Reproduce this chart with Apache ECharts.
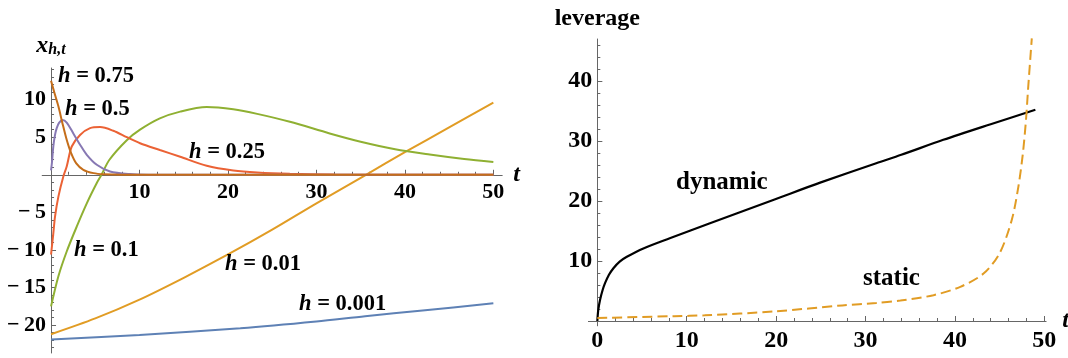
<!DOCTYPE html>
<html><head><meta charset="utf-8">
<script src="https://cdn.jsdelivr.net/npm/echarts@6/dist/echarts.min.js"></script>
<style>html,body{margin:0;padding:0;background:#fff}#c{width:1068px;height:358px}</style>
</head><body><div id="c"></div>
<script>
// ---------- Left panel data: x_{h,t} vs t ----------
const h075_t = [0, 0.38, 0.83, 1.28, 1.77, 2.26, 2.83, 3.65, 4.8, 6, 8, 50];
const h075_v = [12.5, 10.9, 9.1, 6.9, 4.65, 2.9, 1.55, 0.66, 0.22, 0.07, 0.01, 0];
const h05_t = [0, 0.1, 0.26, 0.45, 0.64, 0.9, 1.3, 1.77, 2.52, 3.28, 4.04, 5.17, 6.67, 8.9, 11, 50];
const h05_v = [0.6, 1.6, 3.8, 5.3, 6.2, 6.9, 7.3, 6.95, 5.5, 4.0, 2.66, 1.33, 0.44, 0.09, 0.02, 0];
const h025_t = [0, 0.26, 0.45, 0.83, 1.39, 1.77, 2.34, 3.28, 4.41, 5.54, 7.04, 8.56, 10.06, 12.3, 14.6, 17.6, 20.6, 23.3, 27, 32, 40, 50];
const h025_v = [-10.6, -7.75, -5.55, -2.9, -0.23, 1.1, 3.76, 5.3, 6.2, 6.34, 5.85, 5.0, 4.2, 3.3, 2.4, 1.2, 0.57, 0.3, 0.13, 0.04, 0.01, 0];
const h01_t = [0, 0.83, 1.77, 2.9, 4.04, 5.17, 5.7, 6.6, 8.56, 10.06, 12.3, 14.6, 17.6, 20.6, 23.3, 27, 31.5, 35, 38.9, 42.8, 46.7, 50];
const h01_v = [-17.5, -13.5, -10.2, -6.9, -3.8, -1.1, 0, 2.0, 4.6, 6.0, 7.5, 8.4, 9.0, 8.7, 8.1, 7.05, 5.5, 4.4, 3.4, 2.7, 2.1, 1.7];
const h001_t = [0, 5, 10, 15, 20, 25, 30, 35.6, 40, 45, 50];
const h001_v = [-21.2, -19.1, -16.6, -13.7, -10.6, -7.3, -3.8, 0, 3.0, 6.3, 9.6];
const h0001_t = [0, 10, 21.4, 30, 35.5, 42, 50];
const h0001_v = [-21.9, -21.3, -20.4, -19.5, -18.8, -18.05, -17.1];

// ---------- Right panel data: leverage vs t ----------
const dyn_t = [0, 0.1, 0.3, 0.6, 0.86, 1.3, 1.8, 2.5, 3.3, 5.15, 8.1, 12.6, 19.9, 25, 31.2, 34, 38.7, 44, 49];
const dyn_v = [0, 1.8, 3.5, 5.2, 6.3, 7.7, 8.8, 9.9, 10.7, 12.1, 13.8, 16.3, 20.3, 23.1, 26.3, 27.7, 30.2, 32.8, 35.2];
const sta_t = [0, 8.6, 12, 19.9, 27.4, 31.2, 33.9, 37.6, 40.6, 43.2, 45.0, 46.35, 47.1, 47.6, 47.95, 48.2, 48.6];
const sta_v = [0.5, 0.8, 0.95, 1.6, 2.6, 3.0, 3.4, 4.3, 5.7, 7.9, 11.3, 16.8, 22.4, 27.9, 33.5, 39, 47.1];

// ---------- Tick labels ----------
const leftXTicks = [10, 20, 30, 40, 50];
const leftYTicks = [-20, -15, -10, -5, 5, 10];
const rightXTicks = [0, 10, 20, 30, 40, 50];
const rightYTicks = [10, 20, 30, 40];

// curve labels
const curveLabels = ['0.75', '0.5', '0.25', '0.1', '0.01', '0.001'];

function range(a, b, s) { const r = []; for (let v = a; v <= b + 1e-9; v += s) r.push(+v.toFixed(6)); return r; }
const leftXMinor = range(2, 50, 2);
const leftYMinor = range(-23, 14, 1);
const rightXMinor = range(2, 50, 2);
const rightYMinor = range(2, 46, 2);

function zip(t, v) { return t.map((x, i) => [x, v[i]]); }
const FONT = '"Liberation Serif", "Times New Roman", serif';
const minus = v => (v < 0 ? '\u2212\u2009' + (-v) : String(v));
const AX = '#666';

// grid geometry and ranges
const LG = { left: 42.2, top: 68, width: 460, height: 285 };
const LX = { min: -1, max: 51 };
const LY = { min: -23.7, max: 14.2 };
const RG = { left: 588.4, top: 39, width: 457.7, height: 286.8 };
const RX = { min: -1, max: 50.2 };
const RY = { min: -0.8, max: 47 };
// offsets that move each axis onto the other axis's zero
const lxOff = -(LG.height * (0 - LY.min) / (LY.max - LY.min));
const lyOff = -(LG.width * (0 - LX.min) / (LX.max - LX.min));
const rxOff = -(RG.height * (0 - RY.min) / (RY.max - RY.min));
const ryOff = -(RG.width * (0 - RX.min) / (RX.max - RX.min));

function mkAxis(o) {
  const base = {
    type: 'value', gridIndex: o.grid, min: o.r.min, max: o.r.max, position: o.pos,
    offset: o.offset,
    splitLine: { show: false },
    axisLine: { show: o.major, onZero: false, lineStyle: { color: AX, width: 1 } },
    axisTick: { show: true, inside: true, length: o.major ? 5 : 3, customValues: o.ticks, lineStyle: { color: AX, width: 1 } },
    axisLabel: o.major ? { show: true, customValues: o.ticks, formatter: minus, color: '#000', fontFamily: FONT, fontWeight: 'bold', fontSize: o.fs, margin: o.margin } : { show: false },
    z: 1
  };
  if (o.name) { base.name = o.name; base.nameLocation = 'end'; base.nameGap = o.nameGap; base.nameTextStyle = o.nameStyle; }
  return base;
}

const chart = echarts.init(document.getElementById('c'), null, { renderer: 'canvas' });
const tStyle = { fontFamily: FONT, fontStyle: 'italic', fontWeight: 'bold', fontSize: 24, color: '#000' };
const option = {
  animation: false,
  backgroundColor: '#fff',
  grid: [
    Object.assign({ containLabel: false, outerBoundsMode: 'none' }, LG),
    Object.assign({ containLabel: false, outerBoundsMode: 'none' }, RG)
  ],
  xAxis: [
    mkAxis({ grid: 0, r: LX, pos: 'bottom', offset: lxOff, major: true, ticks: leftXTicks, fs: 22, margin: 7, name: 't', nameGap: 11, nameStyle: Object.assign({ padding: [8, 0, 0, 0] }, tStyle) }),
    mkAxis({ grid: 0, r: LX, pos: 'bottom', offset: lxOff, major: false, ticks: leftXMinor }),
    mkAxis({ grid: 1, r: RX, pos: 'bottom', offset: rxOff, major: true, ticks: rightXTicks, fs: 24, margin: 8, name: 't', nameGap: 10, nameStyle: Object.assign({ padding: [2, 0, 0, 0] }, tStyle) }),
    mkAxis({ grid: 1, r: RX, pos: 'bottom', offset: rxOff, major: false, ticks: rightXMinor })
  ],
  yAxis: [
    mkAxis({ grid: 0, r: LY, pos: 'left', offset: lyOff, major: true, ticks: leftYTicks, fs: 22, margin: 5,
      name: '{x|x}{s|h,t}', nameGap: 10,
      nameStyle: { align: 'center', rich: {
        x: { fontFamily: FONT, fontStyle: 'italic', fontWeight: 'bold', fontSize: 24, color: '#000' },
        s: { fontFamily: FONT, fontStyle: 'italic', fontWeight: 'bold', fontSize: 16, color: '#000', padding: [8, 0, 0, 0] } } } }),
    mkAxis({ grid: 0, r: LY, pos: 'left', offset: lyOff, major: false, ticks: leftYMinor }),
    mkAxis({ grid: 1, r: RY, pos: 'left', offset: ryOff, major: true, ticks: rightYTicks, fs: 24, margin: 5,
      name: 'leverage', nameGap: 8, nameStyle: { fontFamily: FONT, fontWeight: 'bold', fontSize: 24, color: '#000', align: 'center' } }),
    mkAxis({ grid: 1, r: RY, pos: 'left', offset: ryOff, major: false, ticks: rightYMinor })
  ],
  series: [
    { name: 'h=0.001', data: zip(h0001_t, h0001_v), c: '#5E81B5' },
    { name: 'h=0.01', data: zip(h001_t, h001_v), c: '#E19C24' },
    { name: 'h=0.1', data: zip(h01_t, h01_v), c: '#8FB032' },
    { name: 'h=0.25', data: zip(h025_t, h025_v), c: '#EB6235' },
    { name: 'h=0.5', data: zip(h05_t, h05_v), c: '#8778B3' },
    { name: 'h=0.75', data: zip(h075_t, h075_v), c: '#C56E1A' }
  ].map(s => ({ type: 'line', name: s.name, data: s.data, xAxisIndex: 0, yAxisIndex: 0, showSymbol: false, smooth: 0.3,
      lineStyle: { width: 2, color: s.c }, itemStyle: { color: s.c }, z: 3 }))
    .concat([
      { type: 'line', name: 'dynamic', xAxisIndex: 2, yAxisIndex: 2, data: zip(dyn_t, dyn_v), showSymbol: false, smooth: 0.3,
        lineStyle: { width: 2.2, color: '#000' }, z: 3 },
      { type: 'line', name: 'static', xAxisIndex: 2, yAxisIndex: 2, data: zip(sta_t, sta_v), showSymbol: false, smooth: 0.3,
        lineStyle: { width: 2, color: '#E19C24', type: [10, 5] }, z: 3 }
    ]),
  graphic: (function () {
    const pos = [[58, 77], [65, 110], [189, 153], [74, 251], [225, 265], [299, 305]];
    const g = curveLabels.map((lab, i) => ({
      type: 'text', left: pos[i][0], top: pos[i][1] - 12, z: 10,
      style: { text: '{i|h} = ' + lab, fontFamily: FONT, fontWeight: 'bold', fontSize: 22.5, fill: '#000',
        rich: { i: { fontStyle: 'italic', fontFamily: FONT, fontWeight: 'bold', fontSize: 22.5 } } }
    }));
    g.push({ type: 'text', left: 676, top: 184 - 14, z: 10, style: { text: 'dynamic', fontFamily: FONT, fontWeight: 'bold', fontSize: 25, fill: '#000' } });
    g.push({ type: 'text', left: 863, top: 280 - 14, z: 10, style: { text: 'static', fontFamily: FONT, fontWeight: 'bold', fontSize: 25, fill: '#000' } });
    return g;
  })()
};
chart.setOption(option);
</script>
</body></html>
